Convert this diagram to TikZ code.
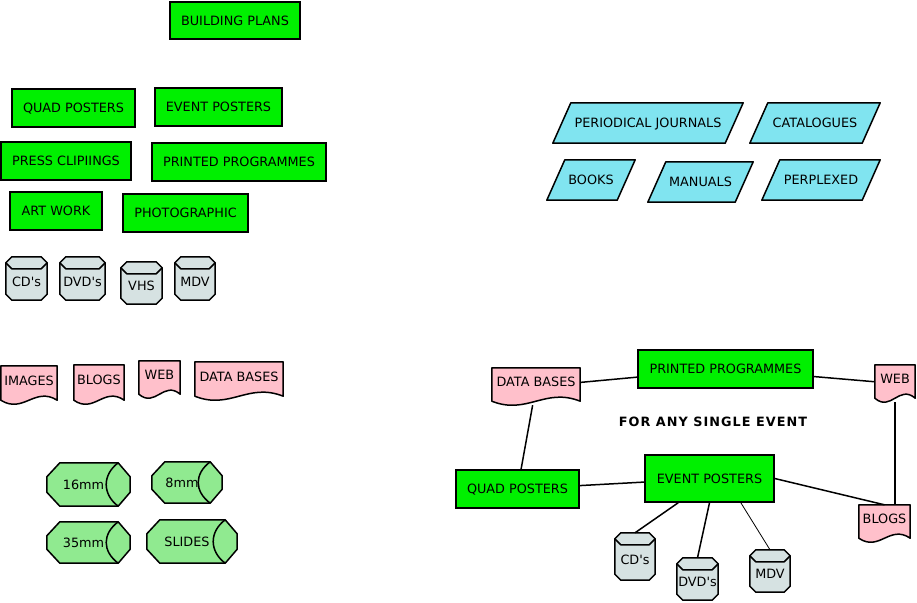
\documentclass[tikz,border=0pt]{standalone}
\usepackage{fontspec}
\setmainfont{DejaVu Sans}
\newfontfamily\lblfont[LetterSpace=8]{DejaVu Sans}
\usetikzlibrary{calc,backgrounds}
\definecolor{boxgreen}{HTML}{00F000}
\definecolor{tapegreen}{HTML}{90EA90}
\definecolor{cylgrey}{HTML}{D6E2E2}
\definecolor{docpink}{HTML}{FFC0CB}
\definecolor{paracyan}{HTML}{80E4F0}
\newcommand\apos{\textquotesingle}
\tikzset{
  base/.style={inner sep=0pt, text height=9.3pt, text depth=0pt,
    font=\fontsize{12.8}{14}\selectfont},
  sz/.style 2 args={minimum width=#1pt, minimum height=#2pt},
  shapeline/.style={draw=black, line width=1.5pt, line join=round},
  greenbox/.style={base, draw=black, line width=1.5pt, fill=boxgreen},
  cylnode/.style={base, text height=15.3pt, text depth=0pt},
  docnode/.style={base, text height=5pt, text depth=4.7pt},
  tapenode/.style={base, execute at end node={\hspace*{10pt}}},
  paranode/.style={base},
  cylfill/.style={shapeline, fill=cylgrey},
  docfill/.style={shapeline, fill=docpink},
  tapefill/.style={shapeline, fill=tapegreen},
  parafill/.style={shapeline, fill=paracyan},
  conn/.style={line width=1.5pt},
  thinconn/.style={line width=0.8pt}
}
\newcommand\cylshape[1]{%
  \path[cylfill] ([shift={(6,0)}]#1.north west) -- ([shift={(-6,0)}]#1.north east)
    -- ([shift={(0,6)}]#1.north east) -- ([shift={(0,-6)}]#1.south east)
    -- ([shift={(-6,0)}]#1.south east) -- ([shift={(6,0)}]#1.south west)
    -- ([shift={(0,-6)}]#1.south west) -- ([shift={(0,6)}]#1.north west) -- cycle;
  \draw[shapeline] ([shift={(0,6)}]#1.north west) -- ([shift={(6,12)}]#1.north west)
    -- ([shift={(-6,12)}]#1.north east) -- ([shift={(0,6)}]#1.north east);}
\newcommand\docshape[1]{%
  \path[docfill] (#1.north west) -- (#1.north east) -- ([shift={(0,-4)}]#1.south east)
    .. controls ($(#1.south west)!0.6!(#1.south east)+(0,-18)$) and ($(#1.south west)!0.4!(#1.south east)+(0,10)$)
    .. ([shift={(0,-4)}]#1.south west) -- cycle;}
\newcommand\tapeshape[1]{%
  \path[tapefill] ([shift={(13,0)}]#1.north west) -- ([shift={(-12,0)}]#1.north east)
    -- ([shift={(0,14)}]#1.north east) -- ([shift={(0,-14)}]#1.south east)
    -- ([shift={(-12,0)}]#1.south east) -- ([shift={(13,0)}]#1.south west)
    -- ([shift={(0,-14)}]#1.south west) -- ([shift={(0,14)}]#1.north west) -- cycle;
  \draw[shapeline] ([shift={(-12,0)}]#1.north east)
    .. controls ([shift={(-28,12)}]#1.north east) and ([shift={(-28,-12)}]#1.south east)
    .. ([shift={(-12,0)}]#1.south east);}
\newcommand\parashape[1]{%
  \path[parafill] ([shift={(18,0)}]#1.north west) -- (#1.north east)
    -- ([shift={(-18,0)}]#1.south east) -- (#1.south west) -- cycle;}
\begin{document}
\begin{tikzpicture}[x=1pt,y=-1pt]
\useasboundingbox (0,0) rectangle (917,602);
% green boxes, left
\node[greenbox, sz={130}{37}] (bp) at (235,20.5) {BUILDING PLANS};
\node[greenbox, sz={123}{38}] (qp1) at (73.5,108) {QUAD POSTERS};
\node[greenbox, sz={127}{38}] (ep1) at (218.5,107) {EVENT POSTERS};
\node[greenbox, sz={130}{38}] (pc) at (66,161) {PRESS CLIPIINGS};
\node[greenbox, sz={174}{38}] (pp1) at (239,162) {PRINTED PROGRAMMES};
\node[greenbox, sz={92}{38}] (aw) at (56,211) {ART WORK};
\node[greenbox, sz={125}{38}] (ph) at (185.5,213) {PHOTOGRAPHIC};
% cylinders, left
\node[cylnode, sz={41}{43}] (cd1) at (26.5,278.5) {CD\apos s};
\node[cylnode, sz={45}{43}] (dvd1) at (82.5,278.5) {DVD\apos s};
\node[cylnode, sz={41}{42}] (vhs) at (141.5,283) {VHS};
\node[cylnode, sz={40}{43}] (mdv1) at (195,278.5) {MDV};
% documents, left
\node[docnode, sz={56}{38}] (img) at (29,385) {IMAGES};
\node[docnode, sz={50}{39}] (blg1) at (99,384.5) {BLOGS};
\node[docnode, sz={41}{37}] (web1) at (159.5,379.5) {WEB};
\node[docnode, sz={88}{38}] (db1) at (239,381) {DATA BASES};
% tapes
\node[tapenode, sz={83}{43}] (t16) at (88.5,484.5) {16mm};
\node[tapenode, sz={70}{41}] (t8) at (187,482.5) {8mm};
\node[tapenode, sz={83}{41}] (t35) at (88.5,542.5) {35mm};
\node[tapenode, sz={90}{43}] (tsl) at (192,541.5) {SLIDES};
% parallelograms
\node[paranode, sz={190}{40}] (pj) at (648,123) {PERIODICAL JOURNALS};
\node[paranode, sz={130}{40}] (cat) at (815,123) {CATALOGUES};
\node[paranode, sz={88}{40}] (bk) at (591,180) {BOOKS};
\node[paranode, sz={105}{40}] (man) at (700.5,182) {MANUALS};
\node[paranode, sz={118}{40}] (perp) at (821,180) {PERPLEXED};
% single event diagram
\node[greenbox, sz={175}{38}] (pp2) at (725.5,369) {PRINTED PROGRAMMES};
\node[docnode, sz={88}{37}] (db2) at (536,386.5) {DATA BASES};
\node[docnode, sz={40}{37}] (web2) at (895,383.5) {WEB};
\node[base] (lbl) at (713,422) {\lblfont\bfseries FOR ANY SINGLE EVENT};
\node[greenbox, sz={123}{38}] (qp2) at (517.5,489) {QUAD POSTERS};
\node[greenbox, sz={129}{47}] (ep2) at (709.5,478.5) {EVENT POSTERS};
\node[docnode, sz={51}{37}] (blg2) at (884.5,523.5) {BLOGS};
\node[cylnode, sz={40}{47}] (cd2) at (635,556.5) {CD\apos s};
\node[cylnode, sz={41}{42}] (dvd2) at (697.5,579) {DVD\apos s};
\node[cylnode, sz={40}{42}] (mdv2) at (770,571) {MDV};
\begin{scope}[on background layer]
\cylshape{cd1}\cylshape{dvd1}\cylshape{vhs}\cylshape{mdv1}
\cylshape{cd2}\cylshape{dvd2}\cylshape{mdv2}
\docshape{img}\docshape{blg1}\docshape{web1}\docshape{db1}
\docshape{db2}\docshape{web2}\docshape{blg2}
\tapeshape{t16}\tapeshape{t8}\tapeshape{t35}\tapeshape{tsl}
\parashape{pj}\parashape{cat}\parashape{bk}\parashape{man}\parashape{perp}
\end{scope}
% connectors
\draw[conn] (db2) -- (pp2);
\draw[conn] (pp2) -- (web2);
\draw[conn] (db2) -- (qp2);
\draw[conn] (web2.south) -- (web2.south |- blg2.north);
\draw[conn] (qp2) -- (ep2);
\draw[conn] (ep2.east) -- (blg2.north);
\draw[conn] ($(ep2.south west)!0.26!(ep2.south east)$) -- (cd2.north);
\draw[conn] (ep2.south) -- (dvd2.north);
\draw[thinconn] ($(ep2.south west)!0.74!(ep2.south east)$) -- (mdv2.north);
\end{tikzpicture}
\end{document}
